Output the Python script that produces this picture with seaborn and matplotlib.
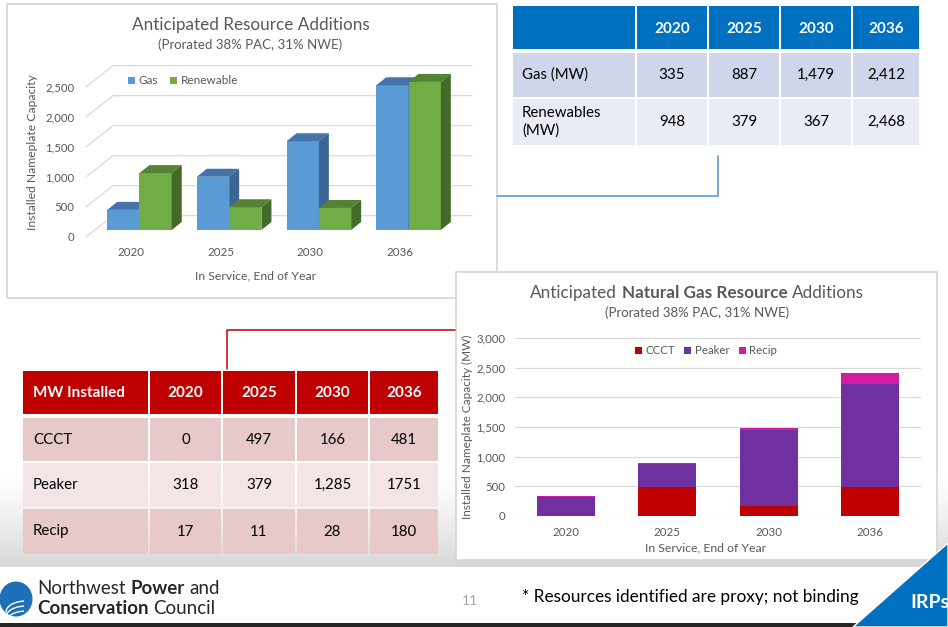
import numpy as np
import pandas as pd
import matplotlib
matplotlib.use("Agg")
import matplotlib.pyplot as plt
import seaborn as sns
from matplotlib.patches import Rectangle, Polygon, Patch, Ellipse, Arc

# ---------------- data ----------------
years = ["2020", "2025", "2030", "2036"]
gas_mw = [335, 887, 1479, 2412]
renewable_mw = [948, 379, 367, 2468]
ccct_mw = [0, 497, 166, 481]
peaker_mw = [318, 379, 1285, 1751]
recip_mw = [17, 11, 28, 180]

res_ticks = [0, 500, 1000, 1500, 2000, 2500]
res_tick_labels = ["0", "500", "1,000", "1,500", "2,000", "2,500"]
ng_ticks = [0, 500, 1000, 1500, 2000, 2500, 3000]
ng_tick_labels = ["0", "500", "1,000", "1,500", "2,000", "2,500", "3,000"]

res_table_rows = ["Gas (MW)", "Renewables\n(MW)"]
res_table_vals = [["335", "887", "1,479", "2,412"], ["948", "379", "367", "2,468"]]
ng_table_head = "MW Installed"
ng_table_rows = ["CCCT", "Peaker", "Recip"]
ng_table_vals = [["0", "497", "166", "481"],
                 ["318", "379", "1,285", "1751"],
                 ["17", "11", "28", "180"]]

# ---------------- style ----------------
sns.set_theme(style="white")
plt.rcParams["font.family"] = ["Lato", "DejaVu Sans"]
GRAY_TXT = "#595959"
GRID = "#D9D9D9"
GAS_F, GAS_T, GAS_S = "#5B9BD5", "#4674A8", "#3A6595"
REN_F, REN_T, REN_S = "#70AD47", "#558235", "#446A2A"
C_CCCT, C_PEAK, C_RECIP = "#C00000", "#7030A0", "#D01EA0"

W, H = 948, 627
fig = plt.figure(figsize=(W / 100, H / 100), dpi=100)
renderer = fig.canvas.get_renderer()


def ax_rect(l, t, r, b):
    return [l / W, 1 - b / H, (r - l) / W, (b - t) / H]


def ftext(x, y, s, **kw):
    kw.setdefault("va", "center")
    return fig.text(x / W, 1 - y / H, s, **kw)


def text_width(s, **kw):
    t = fig.text(0, 0, s, **kw)
    w = t.get_window_extent(renderer).width
    t.remove()
    return w


def rich(parts, x, y, ha="center", **kw):
    sp = text_width("n n", **kw) - text_width("nn", **kw)
    ws = [text_width(s, fontweight=wt, **kw) for s, wt in parts]
    total = sum(ws) + sp * (len(parts) - 1)
    x0 = x - total / 2 if ha == "center" else x
    for (s, wt), wd in zip(parts, ws):
        ftext(x0, y, s, fontweight=wt, ha="left", **kw)
        x0 += wd + sp


# ---------------- background (pixel-coordinate canvas) ----------------
bg = fig.add_axes([0, 0, 1, 1], zorder=-10)
bg.set_axis_off()
col = np.ones(H)
yy = np.arange(H)
ramp = (yy >= 470) & (yy < 567)
col[ramp] = 1.0 - 0.16 * ((yy[ramp] - 470) / 97.0) ** 1.3
col[yy >= 623] = 0.15
bg.imshow(col[:, None], cmap="gray", vmin=0, vmax=1, aspect="auto",
          extent=[0, W, H, 0], interpolation="nearest")
bg.set_xlim(0, W)
bg.set_ylim(H, 0)

# panels
bg.add_patch(Rectangle((7, 4), 490, 294, fc="white", ec="#D6D6D6", lw=1.2, zorder=1))
bg.add_patch(Rectangle((456, 272), 481, 288, fc="white", ec="#D6D6D6", lw=1.2, zorder=2))

# connectors
bg.plot([497, 718, 718], [196, 196, 156], color="#4F91D0", lw=1.1, zorder=3)
bg.plot([227, 227, 455], [369, 330, 330], color="#C00000", lw=1.1, zorder=3)

# top-right table
tcols = [(513, 635), (637, 707), (709, 779), (781, 851), (853, 919)]
trows = [(6, 49), (53, 97), (99, 145)]
tfill = ["#0070C0", "#CFD5EA", "#E9EBF5"]
for ri, (r0, r1) in enumerate(trows):
    for ci, (c0, c1) in enumerate(tcols):
        bg.add_patch(Rectangle((c0, r0), c1 - c0, r1 - r0, fc=tfill[ri], ec="none", zorder=4))
for ci, yr in enumerate(years):
    c0, c1 = tcols[ci + 1]
    bg.text((c0 + c1) / 2, 29, yr, ha="center", va="center", color="white",
            fontweight="bold", fontsize=11, zorder=5)
for ri, (lab, vals) in enumerate(zip(res_table_rows, res_table_vals)):
    r0, r1 = trows[ri + 1]
    ym = (r0 + r1) / 2
    bg.text(522, ym, lab, ha="left", va="center", color="black", fontsize=10.8,
            linespacing=1.25, zorder=5)
    for ci, v in enumerate(vals):
        c0, c1 = tcols[ci + 1]
        bg.text((c0 + c1) / 2, ym, v, ha="center", va="center", color="black",
                fontsize=10.8, zorder=5)

# bottom-left table
bcols = [(23, 148), (150, 221), (223, 295), (297, 368), (370, 438)]
brows = [(371, 414), (418, 461), (463, 507), (509, 554)]
bfill = ["#C00000", "#E7C9CA", "#F3E5E6", "#E7C9CA"]
for ri, (r0, r1) in enumerate(brows):
    for ci, (c0, c1) in enumerate(bcols):
        bg.add_patch(Rectangle((c0, r0), c1 - c0, r1 - r0, fc=bfill[ri], ec="none", zorder=4))
bg.text(33, 393, ng_table_head, ha="left", va="center", color="white",
        fontweight="bold", fontsize=11, zorder=5)
for ci, yr in enumerate(years):
    c0, c1 = bcols[ci + 1]
    bg.text((c0 + c1) / 2, 393, yr, ha="center", va="center", color="white",
            fontweight="bold", fontsize=11, zorder=5)
for ri, (lab, vals) in enumerate(zip(ng_table_rows, ng_table_vals)):
    r0, r1 = brows[ri + 1]
    ym = (r0 + r1) / 2
    bg.text(33, ym, lab, ha="left", va="center", color="black", fontsize=10.8, zorder=5)
    for ci, v in enumerate(vals):
        c0, c1 = bcols[ci + 1]
        bg.text((c0 + c1) / 2, ym, v, ha="center", va="center", color="black",
                fontsize=10.8, zorder=5)

# footer decorations
bg.add_patch(Polygon([(853, 627), (948, 543), (948, 627)], closed=True,
                     fc="#0070C0", ec="white", lw=1.0, zorder=6))
bg.add_patch(Ellipse((16, 599), 33, 35, fc="#1E6FB8", ec="none", zorder=6))
for k, (cx, cy, ww, hh) in enumerate([(26, 612, 40, 22), (26, 617, 40, 22), (26, 622, 40, 22)]):
    bg.add_patch(Arc((cx, cy), ww, hh, theta1=180, theta2=260, color="white", lw=1.0, zorder=7))

# ---------------- chart 1: resource additions (3-D style bars) ----------------
ax1 = fig.add_axes(ax_rect(80, 60, 475, 240))
ax1.set_facecolor("none")
df1 = pd.DataFrame({
    "year": years * 2,
    "type": ["Gas"] * len(years) + ["Renewable"] * len(years),
    "mw": gas_mw + renewable_mw,
})
sns.barplot(data=df1, x="year", y="mw", hue="type", order=years,
            hue_order=["Gas", "Renewable"], palette=[GAS_F, REN_F],
            width=0.72, saturation=1, linewidth=0, legend=False, ax=ax1,
            errorbar=None)
PX_X = 89.7           # pixels per category
PX_Y = 180 / 3000.0   # pixels per MW
X0L, X1R = -0.663, 3.741
ax1.set_xlim(X0L, X1R)
ax1.set_ylim(-167, 2833)
dx = 10 / PX_X
dy = 8 / PX_Y
front_off = 7 / PX_Y
back_off = 14.3 / PX_Y
xf, xb, xr = (86 - 139.5) / PX_X, (113 - 139.5) / PX_X, (472 - 139.5) / PX_X
for v in res_ticks:
    ax1.plot([xf, xb, xr], [v - front_off, v + back_off, v + back_off],
             color=GRID, lw=0.9, zorder=1, solid_joinstyle="miter")

bars = sorted([p for p in ax1.patches if isinstance(p, Rectangle)], key=lambda p: p.get_x())
for i, p in enumerate(bars):
    z = 3 + i * 0.1
    p.set_zorder(z)
    x0, w, h = p.get_x(), p.get_width(), p.get_height()
    x1 = x0 + w
    is_gas = np.allclose(p.get_facecolor()[:3], matplotlib.colors.to_rgb(GAS_F), atol=0.02)
    top_c, side_c = (GAS_T, GAS_S) if is_gas else (REN_T, REN_S)
    ax1.add_patch(Polygon([(x0, h), (x1, h), (x1 + dx, h + dy), (x0 + dx, h + dy)],
                          closed=True, fc=top_c, ec="none", zorder=z + 0.01))
    ax1.add_patch(Polygon([(x1, 0), (x1, h), (x1 + dx, h + dy), (x1 + dx, dy)],
                          closed=True, fc=side_c, ec="none", zorder=z + 0.01))

ax1.set_yticks([v - front_off for v in res_ticks], res_tick_labels)
ax1.set_xticks([i - 8.5 / PX_X for i in range(len(years))], years)
ax1.tick_params(axis="y", length=0, pad=4, labelsize=8.2, labelcolor=GRAY_TXT)
ax1.tick_params(axis="x", length=0, pad=5, labelsize=8.3, labelcolor=GRAY_TXT)
for s in ax1.spines.values():
    s.set_visible(False)
ax1.grid(False)
ax1.set_xlabel("In Service, End of Year", fontsize=8.8, color=GRAY_TXT)
ax1.xaxis.set_label_coords((256 - 80) / 395, (240 - 276) / 180)
ax1.xaxis.label.set_va("center")
ax1.set_ylabel("Installed Nameplate Capacity", fontsize=8.7, color=GRAY_TXT)
ax1.yaxis.set_label_coords((33 - 80) / 395, (240 - 152) / 180)
ax1.yaxis.label.set_va("center")
h1 = [Patch(fc=GAS_F, ec="none"), Patch(fc=REN_F, ec="none")]
ax1.legend(h1, ["Gas", "Renewable"], loc="center left",
           bbox_to_anchor=((128 - 80) / 395, (240 - 81) / 180), ncol=2,
           frameon=False, fontsize=8.5, labelcolor=GRAY_TXT, handlelength=0.6,
           handleheight=0.6, handletextpad=0.3, columnspacing=1.0,
           borderpad=0, borderaxespad=0)
ftext(251, 25, "Anticipated Resource Additions", ha="center", fontsize=12.3, color=GRAY_TXT)
ftext(250, 45, "(Prorated 38% PAC, 31% NWE)", ha="center", fontsize=9.5, color=GRAY_TXT)

# ---------------- chart 2: natural gas resource additions (stacked) ----------------
ax2 = fig.add_axes(ax_rect(515, 338, 921, 516))
ax2.set_facecolor("none")
cp = [c + p for c, p in zip(ccct_mw, peaker_mw)]
total = [a + r for a, r in zip(cp, recip_mw)]
common = dict(order=years, width=0.57, saturation=1, linewidth=0, ax=ax2, errorbar=None)
sns.barplot(x=years, y=total, color=C_RECIP, **common)
sns.barplot(x=years, y=cp, color=C_PEAK, **common)
sns.barplot(x=years, y=ccct_mw, color=C_CCCT, **common)
ax2.set_xlim(-0.5, 3.5)
ax2.set_ylim(0, 3000)
ax2.set_yticks(ng_ticks, ng_tick_labels)
ax2.yaxis.grid(True, color=GRID, lw=0.9)
ax2.xaxis.grid(False)
ax2.set_axisbelow(True)
for s in ax2.spines.values():
    s.set_visible(False)
ax2.tick_params(axis="y", length=0, pad=7, labelsize=8.2, labelcolor=GRAY_TXT)
ax2.tick_params(axis="x", length=0, pad=8, labelsize=8.3, labelcolor=GRAY_TXT)
ax2.set_xlabel("In Service, End of Year", fontsize=8.8, color=GRAY_TXT)
ax2.xaxis.set_label_coords((706 - 515) / 406, (516 - 548) / 178)
ax2.xaxis.label.set_va("center")
ax2.set_ylabel("Installed Nameplate Capacity (MW)", fontsize=8.5, color=GRAY_TXT)
ax2.yaxis.set_label_coords((467 - 515) / 406, (516 - 427) / 178)
ax2.yaxis.label.set_va("center")
h2 = [Patch(fc=C_CCCT, ec="none"), Patch(fc=C_PEAK, ec="none"), Patch(fc=C_RECIP, ec="none")]
ax2.legend(h2, ["CCCT", "Peaker", "Recip"], loc="center",
           bbox_to_anchor=((706 - 515) / 406, (516 - 351) / 178), ncol=3,
           frameon=False, fontsize=8.3, labelcolor=GRAY_TXT, handlelength=0.6,
           handleheight=0.6, handletextpad=0.3, columnspacing=0.8,
           borderpad=0, borderaxespad=0)
rich([("Anticipated", "normal"), ("Natural Gas Resource", "bold"), ("Additions", "normal")],
     697, 293, ha="center", fontsize=12.3, color=GRAY_TXT)
ftext(697, 313, "(Prorated 38% PAC, 31% NWE)", ha="center", fontsize=9.5, color=GRAY_TXT)

# ---------------- footer text ----------------
rich([("Northwest", "normal"), ("Power", "bold"), ("and", "normal")], 37, 589,
     ha="left", fontsize=13.5, color="#262626")
rich([("Conservation", "bold"), ("Council", "normal")], 37, 608,
     ha="left", fontsize=13.5, color="#262626")
ftext(470, 601, "11", ha="center", fontsize=10, color="#A6A6A6")
ftext(522, 597, "* Resources identified are proxy; not binding", ha="left",
      fontsize=12.4, color="black")
ftext(930, 603, "IRPs", ha="center", fontsize=14, fontweight="bold", color="white")

fig.savefig("out.png", dpi=100)
